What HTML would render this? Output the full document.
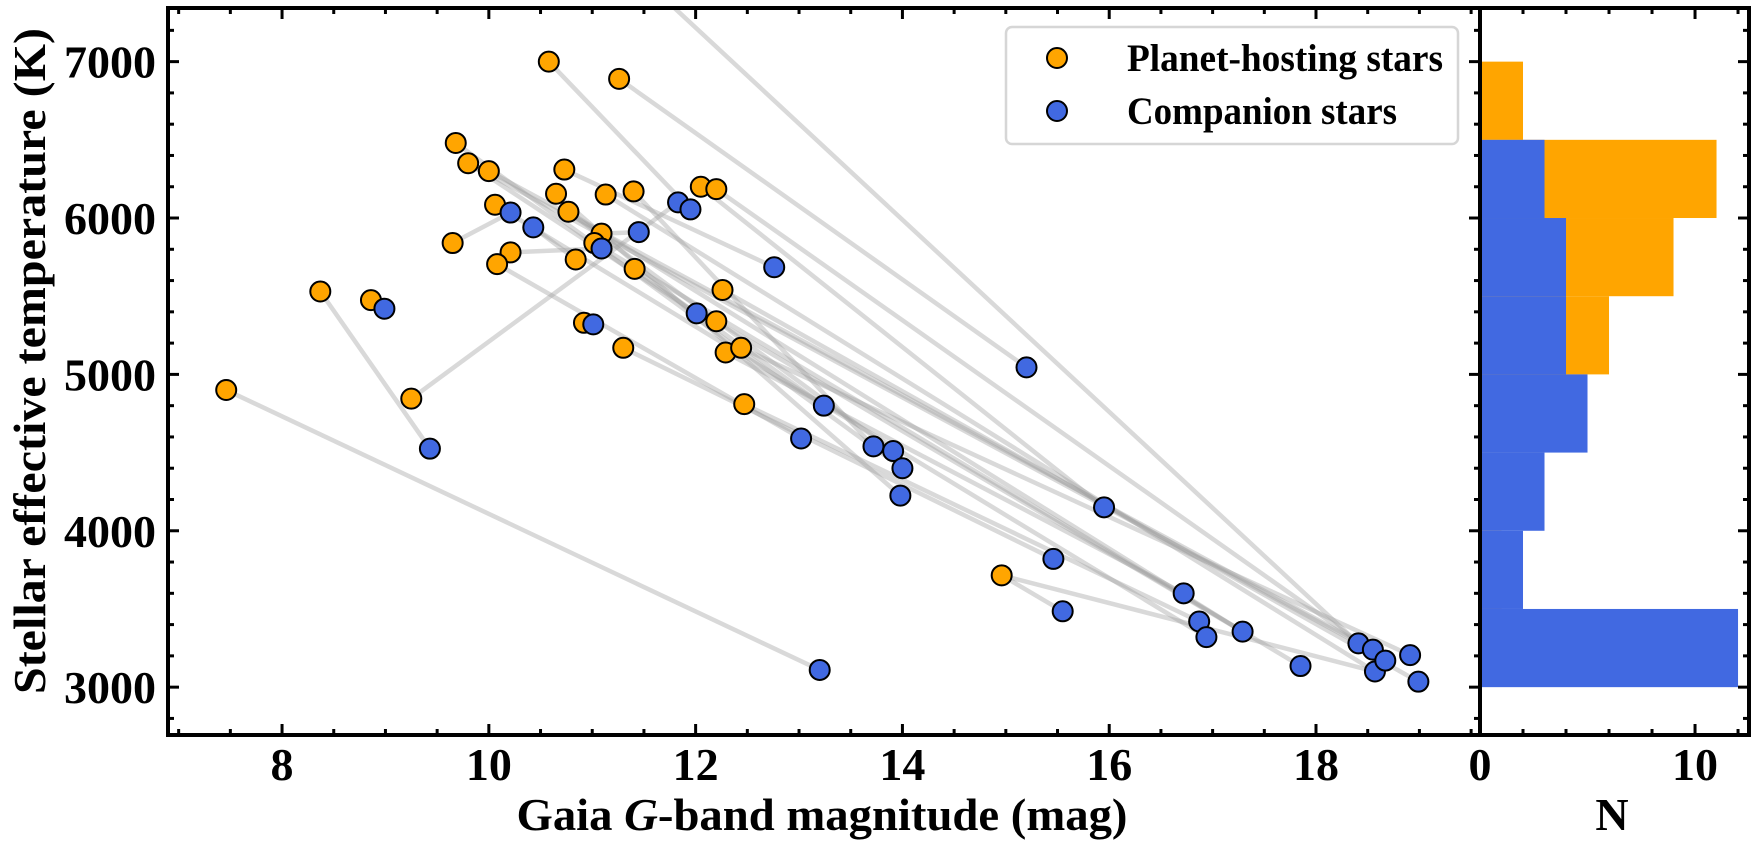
<!DOCTYPE html>
<html><head><meta charset="utf-8">
<style>
html,body{margin:0;padding:0;background:#fff;}
svg{display:block;font-family:"Liberation Serif",serif;font-weight:bold;}
</style></head>
<body>
<svg id="chart" width="1755" height="848" viewBox="0 0 1755 848" xmlns="http://www.w3.org/2000/svg">
<defs><clipPath id="clipMain"><rect x="168" y="8" width="1312" height="727"/></clipPath></defs>
<g id="links" clip-path="url(#clipMain)"></g>
<g id="hostPts" clip-path="url(#clipMain)"></g>
<g id="compPts" clip-path="url(#clipMain)"></g>
<g id="hist"></g>
<g id="ticks"></g>
<rect x="168" y="8" width="1312" height="727" fill="none" stroke="#000" stroke-width="4"/>
<rect x="1480" y="8" width="269" height="727" fill="none" stroke="#000" stroke-width="4"/>
<g>
<rect x="1006" y="27" width="452" height="117" rx="6" fill="#fff" fill-opacity="0.8" stroke="#d6d6d6" stroke-width="2.5"/>
<circle cx="1057" cy="58" r="10" fill="#FFA500" stroke="#000" stroke-width="2"/>
<text x="1127" y="71" font-size="39" textLength="316" lengthAdjust="spacingAndGlyphs">Planet-hosting stars</text>
<circle cx="1057" cy="111" r="10" fill="#4169E1" stroke="#000" stroke-width="2"/>
<text x="1127" y="124" font-size="39" textLength="270" lengthAdjust="spacingAndGlyphs">Companion stars</text>
</g>
<text x="822" y="830" font-size="46" text-anchor="middle" textLength="611" lengthAdjust="spacingAndGlyphs">Gaia <tspan font-style="italic">G</tspan>-band magnitude (mag)</text>
<text x="1612" y="830" font-size="46" text-anchor="middle">N</text>
<text transform="translate(45,361) rotate(-90)" font-size="46" text-anchor="middle" textLength="666" lengthAdjust="spacingAndGlyphs">Stellar effective temperature (K)</text>
</svg>
<script>
const hostMag  = [10.58,11.26,9.68,9.80,10.00,10.73,10.65,11.13,11.40,12.05,12.20,10.06,10.77,11.09,11.02,9.65,10.21,10.08,10.84,11.41,12.26,8.37,8.86,12.20,10.92,11.30,12.29,12.44,9.25,7.46,12.47,14.96,10.97];
const hostTeff = [7000,6890,6480,6350,6300,6310,6155,6150,6170,6200,6185,6085,6040,5900,5840,5840,5780,5705,5735,5675,5540,5530,5475,5340,5330,5170,5140,5170,4845,4900,4810,3715,7850];
const compMag  = [10.21,10.43,11.83,11.95,11.45,11.09,12.76,8.99,11.01,12.01,9.43,13.24,13.02,13.72,13.91,14.00,13.98,15.20,15.95,15.46,15.55,16.72,16.87,16.94,17.29,17.85,18.41,18.55,18.57,18.67,18.91,18.99,13.20];
const compTeff = [6035,5940,6100,6055,5910,5805,5685,5420,5320,5390,4525,4800,4590,4540,4510,4400,4225,5045,4150,3820,3485,3600,3420,3320,3355,3135,3280,3240,3100,3170,3205,3035,3110];
const pairHost = [0,1,2,3,4,5,6,7,8,9,10,11,12,13,14,15,16,17,18,19,20,21,22,23,24,25,26,27,28,29,30,31,31,32,3,12];
const pairComp = [3,17,15,26,27,6,16,28,13,18,29,23,14,4,25,0,5,12,1,11,31,10,7,24,8,19,21,30,2,32,22,20,28,26,9,24];
const binEdges = [3000,3500,4000,4500,5000,5500,6000,6500,7000];
const histHost = [0,1,0,3,6,9,11,2];
const histComp = [12,2,3,5,4,4,3,0];
const xTicks = [8,10,12,14,16,18];
const yTicks = [3000,4000,5000,6000,7000];
const nTicks = [0,10];

const NS="http://www.w3.org/2000/svg";
const X0=168,X1=1480,Y0=8,Y1=735,HX1=1749;
const magMin=6.897,magMax=19.586,tMin=2694,tMax=7343,nMax=12.51;
const xs=m=>X0+(m-magMin)/(magMax-magMin)*(X1-X0);
const ys=t=>Y1-(t-tMin)/(tMax-tMin)*(Y1-Y0);
const hs=n=>X1+n/nMax*(HX1-X1);
function mk(tag,attrs,parent){const e=document.createElementNS(NS,tag);for(const k in attrs)e.setAttribute(k,attrs[k]);parent.appendChild(e);return e;}

const links=document.getElementById('links');
pairHost.forEach((h,i)=>{const c=pairComp[i];
 const l=mk('line',{x1:xs(hostMag[h]),y1:ys(hostTeff[h]),x2:xs(compMag[c]),y2:ys(compTeff[c]),stroke:'rgb(160,160,160)','stroke-opacity':0.4,'stroke-width':4.5},links);
 
 
});
const hp=document.getElementById('hostPts');
hostMag.forEach((m,i)=>{const c=mk('circle',{cx:xs(m),cy:ys(hostTeff[i]),r:10,fill:'#FFA500',stroke:'#000','stroke-width':2},hp);
 
 
});
const cp=document.getElementById('compPts');
compMag.forEach((m,i)=>{const c=mk('circle',{cx:xs(m),cy:ys(compTeff[i]),r:10,fill:'#4169E1',stroke:'#000','stroke-width':2},cp);
 
 
});
const hg=document.getElementById('hist');
histHost.forEach((n,i)=>{if(!n)return;const r=mk('rect',{x:X1,y:ys(binEdges[i+1]),width:hs(n)-X1,height:ys(binEdges[i])-ys(binEdges[i+1]),fill:'#FFA500'},hg);
 
 
});
histComp.forEach((n,i)=>{if(!n)return;const r=mk('rect',{x:X1,y:ys(binEdges[i+1]),width:hs(n)-X1,height:ys(binEdges[i])-ys(binEdges[i+1]),fill:'#4169E1'},hg);
 
 
});
const tg=document.getElementById('ticks');
function tick(x1,y1,x2,y2){mk('line',{x1,y1,x2,y2,stroke:'#000','stroke-width':3},tg);}
for(let m=7;m<=19.5;m+=0.5){const x=xs(m);if(x<X0+2||x>X1-2)continue;const maj=Number.isInteger(m)&&m%2===0;const L=maj?11:6;tick(x,Y1,x,Y1-L);tick(x,Y0,x,Y0+L);}
for(let t=2800;t<=7200;t+=200){const y=ys(t);const maj=t%1000===0;const L=maj?11:6;tick(X0,y,X0+L,y);tick(X1,y,X1-L,y);tick(HX1,y,HX1-L,y);}
for(let n=2;n<=12;n+=2){const x=hs(n);const L=n===10?11:6;tick(x,Y1,x,Y1-L);tick(x,Y0,x,Y0+L);}
xTicks.forEach(m=>{const t=mk('text',{x:xs(m),y:780,'font-size':46,'text-anchor':'middle'},tg);t.textContent=m;
 
 });
yTicks.forEach(v=>{const t=mk('text',{x:156,y:ys(v)+16,'font-size':46,'text-anchor':'end'},tg);t.textContent=v;
 
 });
nTicks.forEach(n=>{const t=mk('text',{x:hs(n),y:780,'font-size':46,'text-anchor':'middle'},tg);t.textContent=n;
 
 });
</script>
</body></html>
